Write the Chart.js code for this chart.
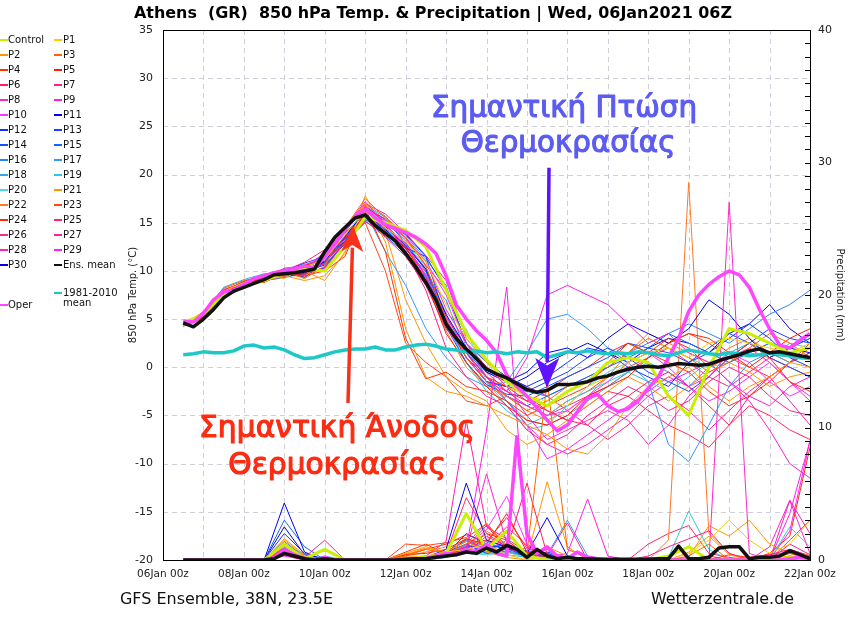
<!DOCTYPE html>
<html>
<head>
<meta charset="utf-8">
<title>Athens 850 hPa ensemble</title>
<script src="https://cdn.jsdelivr.net/npm/chart.js@4.4.1/dist/chart.umd.min.js"></script>
<style>
  html, body { margin: 0; padding: 0; background: #fff; }
  #wrap { width: 850px; height: 620px; position: relative; }
</style>
</head>
<body>
<div id="wrap"><canvas id="ens" width="850" height="620"></canvas></div>
<script>
// forecast hours counted from 06Jan 00z
const HOURS_12 = [12,24,36,48,60,72,84,96,108,120,132,144,156,168,180,192,204,216,228,240,252,264,276,288,300,312,324,336,348,360,372,384];
const HOURS_6 = [12,18,24,30,36,42,48,54,60,66, 72,78,84,90,96,102,108,114,120,126, 132,138,144,150,156,162,168,174,180,186,
  192,198,204,210,216,222,228,234,240,246, 252,258,264,270,276,282,288,294,300,306, 312,318,324,330,336,342,348,354,360,366, 372,378,384];
const DATE_LABELS = ['06Jan 00z','08Jan 00z','10Jan 00z','12Jan 00z','14Jan 00z','16Jan 00z','18Jan 00z','20Jan 00z','22Jan 00z'];

const MEMBER_NAMES = ['Control','P1','P2','P3','P4','P5','P6','P7','P8','P9','P10','P11','P12','P13','P14','P15',
  'P16','P17','P18','P19','P20','P21','P22','P23','P24','P25','P26','P27','P28','P29','P30'];
const MEMBER_COLORS = ['#c8f000','#ffc800','#ff9600','#ff6400','#ff3200','#ff1e00','#ff1e64','#ff1e8c','#ff28c8','#ff1ee6','#ff32ff',
  '#0000f0','#1432ff','#1446ff','#1450ff','#1464ff','#2882ff','#3296ff','#32aadc','#32c8dc','#46dcdc',
  '#ff9600','#ff7828','#ff4614','#ff2814','#ff2864','#ff2882','#ff1eaa','#ff1ed2','#ff1eff','#0000dc'];

// 850 hPa temperature (°C), 12-hourly
const T_CONTROL = [4.6,5.5,7.6,8.4,9.0,9.8,10.2,10.0, 12.5,15.6,15.0,14.2,12.5,8.0,3.5,0.8, -1.5,-3.0,-4.0,-2.5,-1.5,0.5,1.0,0.5, -3.0,-5.0,0.0,4.0,3.5,2.5,1.5,2.0];
const T_P1 = [4.3,5.6,7.9,8.8,9.5,9.2,10.4,11.2, 13.8,16.2,14.5,13.0,11.0,6.5,3.0,0.5, -2.0,-3.0,-3.5,-4.0,-2.0,-1.0,0.5,1.5, 2.0,1.0,2.5,3.0,2.5,2.0,1.5,2.5];
const T_P2 = [4.4,5.0,7.5,8.5,9.0,9.5,10.0,9.0, 12.0,17.0,13.0,4.0,-1.0,-2.5,-3.0,-4.0, -5.0,-6.0,-7.0,-8.5,-9.0,-7.0,-4.0,-2.0, -1.0,0.0,-2.0,-3.5,-2.0,-1.0,0.5,0.0];
const T_P3 = [4.2,5.8,8.2,9.0,9.4,10.0,9.2,10.5, 14.5,17.5,15.5,13.5,10.5,5.0,1.0,-1.5, -3.0,-4.5,-3.5,-2.0,-1.5,0.0,1.5,3.0, 2.0,1.0,-0.5,0.5,2.0,3.5,2.5,1.0];
const T_P4 = [4.6,5.2,8.0,8.8,8.8,9.8,9.5,10.0, 11.5,16.5,12.0,3.0,-1.2,-0.5,-2.0,-2.5, -3.5,-5.0,-4.0,-3.0,-2.0,0.5,2.5,1.5, 3.0,2.0,0.0,1.0,2.5,1.0,-1.5,-2.5];
const T_P5 = [4.5,5.4,7.4,8.6,9.3,9.9,10.6,11.0, 13.0,16.0,14.0,12.5,9.0,3.5,0.5,-2.0, -4.0,-5.5,-6.0,-5.0,-3.0,-2.0,-1.0,1.0, 2.5,3.5,3.0,1.5,0.0,1.5,3.0,4.0];
const T_P6 = [4.7,5.1,7.7,8.4,9.6,10.2,9.6,10.8, 13.6,15.2,13.5,11.5,8.5,4.0,1.5,-1.0, -2.5,-3.5,-4.5,-5.5,-6.0,-4.0,-3.0,-1.5, -0.5,-2.0,-4.0,-6.0,-3.0,-1.0,0.5,1.5];
const T_P7 = [4.3,5.5,7.6,8.9,9.1,9.4,10.3,11.5, 14.0,16.8,15.0,12.0,8.0,2.0,-1.0,-3.0, -4.0,-6.5,-8.0,-7.0,-5.0,-3.5,-2.0,-3.0, -4.5,-3.5,-1.5,0.0,-1.0,-3.0,-4.5,-5.0];
const T_P8 = [4.4,5.7,7.8,8.5,9.4,9.6,10.1,12.0, 14.5,17.2,14.8,13.5,11.0,6.0,2.5,0.0, -2.0,-5.0,-7.5,-6.5,-5.5,-4.5,-5.5,-8.0, -6.0,-3.0,-1.0,1.0,2.0,0.5,-1.5,-3.5];
const T_P9 = [4.5,5.3,7.5,8.8,9.5,9.8,9.9,10.2, 13.0,15.8,14.5,12.8,9.5,5.0,1.0,-1.5, -2.5,1.0,7.5,8.5,7.5,6.5,4.5,2.5, 3.5,1.5,0.5,-1.5,-3.0,-4.0,-2.0,-1.0];
const T_P10 = [4.6,5.6,8.1,8.7,9.0,10.3,10.5,11.8, 14.2,16.5,15.2,13.2,11.0,7.5,2.5,-1.0, -3.0,-4.0,-5.0,-4.5,-3.0,-1.5,0.5,1.5, 0.0,-2.0,-1.0,1.5,0.5,-1.5,-3.0,-2.0];
const T_P11 = [4.4,5.2,7.3,8.6,9.2,9.5,9.7,11.0, 13.5,16.3,14.6,12.6,10.2,5.5,2.0,-0.5, -1.5,-0.5,1.5,2.0,1.0,3.0,4.5,3.5, 2.5,4.0,7.0,5.5,3.0,1.0,2.0,1.5];
const T_P12 = [4.5,5.4,7.2,8.3,9.1,9.7,10.0,10.6, 12.8,15.5,14.8,13.8,11.5,8.0,2.5,0.5, -1.0,-2.0,-1.0,0.5,2.0,1.5,0.0,-1.0, -2.0,0.5,1.5,3.0,4.5,3.0,1.0,0.0];
const T_P13 = [4.3,5.1,7.6,8.8,9.3,10.0,10.8,11.5, 13.9,16.0,14.2,12.4,11.5,4.8,1.0,-1.5, -2.0,-2.5,-1.5,-0.5,1.0,2.0,1.0,-0.5, -1.5,-2.5,-1.0,1.0,2.5,4.0,3.0,2.5];
const T_P14 = [4.6,5.3,7.9,8.9,9.6,10.1,9.3,10.9, 13.3,15.4,13.6,11.8,9.0,4.2,0.5,-1.8, -2.8,-3.0,-2.0,-1.0,0.0,1.0,2.5,2.0, 1.5,0.5,2.0,3.5,2.5,1.0,0.0,-1.0];
const T_P15 = [4.5,5.5,7.7,8.6,9.0,9.3,9.8,10.3, 13.1,16.6,15.3,12.9,10.0,5.0,1.5,-1.0, -3.0,-4.0,-3.0,-2.0,-1.0,0.0,1.0,2.0, 3.5,2.5,1.5,0.5,1.5,2.5,2.0,3.0];
const T_P16 = [4.4,5.2,7.5,8.8,9.4,9.6,10.2,10.7, 12.9,15.6,14.0,12.0,9.2,7.0,1.5,-0.5, -1.5,-2.5,-3.0,-2.0,-1.0,0.0,1.5,2.5, 3.5,4.5,3.5,2.5,4.0,5.5,6.5,8.0];
const T_P17 = [4.5,5.6,7.9,8.5,9.2,10.2,10.4,11.2, 13.6,16.1,12.0,8.5,4.0,1.0,-1.0,-2.0, -1.5,1.5,5.0,5.5,4.0,2.0,0.5,-1.5, -8.0,-9.8,-6.0,-2.0,0.5,1.5,2.0,3.0];
const T_P18 = [4.4,5.5,8.3,9.1,9.7,9.9,10.6,11.4, 14.3,16.7,15.6,13.7,11.2,8.5,2.0,-1.0, -3.5,-5.5,-6.0,-5.0,-3.5,-2.0,-0.5,0.5, -0.5,-2.0,0.0,1.5,2.5,1.5,0.5,1.5];
const T_P19 = [4.5,5.3,7.6,8.7,9.3,10.1,10.0,10.1, 12.6,15.3,14.4,12.7,9.6,4.6,0.5,-2.5, -4.5,-6.0,-5.0,-3.5,-2.5,-1.5,-0.5,-1.5, -2.5,-1.0,0.5,1.0,1.5,1.0,2.5,2.0];
const T_P20 = [4.6,5.4,7.4,8.5,9.1,9.9,10.7,11.1, 13.7,16.4,15.1,13.1,10.4,5.6,4.0,-1.5, -4.0,-6.5,-6.0,-4.0,-2.0,-0.5,0.5,1.5, 2.0,1.0,0.0,0.5,1.5,2.5,1.5,1.0];
const T_P21 = [4.3,5.0,7.3,8.3,9.0,9.5,9.0,9.5, 11.8,17.8,14.0,7.0,2.5,-1.0,-2.5,-3.5, -6.5,-8.0,-7.0,-5.5,-4.0,-2.5,-1.0,-2.0, -3.5,-2.0,-0.5,0.5,-0.5,-2.0,-1.0,-0.5];
const T_P22 = [4.5,5.7,8.0,8.9,9.5,10.0,10.1,11.9, 14.1,16.9,15.7,12.8,8.8,3.8,0.0,-2.0, -3.0,-4.5,-5.5,-4.5,-3.0,-1.0,1.5,3.5, 2.5,1.5,0.5,2.0,3.0,1.5,0.5,2.0];
const T_P23 = [4.4,5.3,7.8,8.6,9.0,9.6,9.4,10.4, 13.0,15.0,10.0,2.5,0.5,-1.0,-3.5,-4.0, -3.0,-4.0,-5.0,-3.5,-2.5,-1.0,0.0,1.0, 2.5,3.5,2.5,1.0,0.0,-1.0,0.5,1.5];
const T_P24 = [4.5,5.5,7.7,8.7,9.2,9.8,10.3,11.3, 13.4,15.7,14.1,12.1,9.3,4.4,1.0,-1.0, -2.0,-3.5,-2.5,-1.0,0.0,1.5,2.5,1.5, 0.5,-0.5,-2.5,-4.0,-3.0,-1.5,0.5,2.5];
const T_P25 = [4.6,5.1,7.5,8.4,9.0,10.0,10.9,12.2, 14.6,16.6,15.4,13.4,10.6,8.0,2.5,0.0, -1.5,-3.0,-4.5,-5.5,-4.0,-2.5,-3.0,-4.5, -6.0,-7.0,-8.3,-6.0,-4.0,-5.0,-6.5,-7.5];
const T_P26 = [4.4,5.4,7.9,8.8,9.3,9.5,9.6,10.4, 13.0,15.1,13.9,12.3,9.9,5.2,2.0,-0.5, -2.5,-4.0,-5.0,-4.0,-3.0,-2.0,-0.5,1.0, 2.0,0.5,-1.0,-2.0,-0.5,1.0,0.0,-1.0];
const T_P27 = [4.5,5.6,8.0,8.6,9.1,9.7,10.3,11.7, 14.4,17.0,15.9,13.9,11.6,9.0,3.0,0.5, -1.0,-2.0,-3.0,-4.5,-6.0,-7.5,-6.0,-4.0, -3.0,-4.5,-6.5,-4.5,-2.5,-1.0,-3.5,-6.0];
const T_P28 = [4.3,5.2,7.4,8.5,9.4,9.9,10.5,11.0, 13.5,16.2,14.7,12.9,10.2,5.4,1.5,-1.5, -3.5,-6.0,-8.0,-9.0,-8.0,-6.5,-5.0,-3.0, -1.5,-0.5,0.5,-1.5,-3.5,-6.5,-10.0,-11.5];
const T_P29 = [4.5,5.5,7.6,8.9,9.6,9.6,10.0,10.8, 13.3,15.7,14.4,12.5,9.4,4.9,1.5,-1.0, -3.5,-6.0,-9.5,-8.5,-7.0,-5.5,-4.0,-2.5, -1.0,-2.0,-3.5,-2.5,-1.0,0.5,-1.5,-3.0];
const T_P30 = [4.4,5.3,7.7,8.6,9.0,9.8,10.2,10.9, 13.1,15.9,14.3,12.3,9.6,4.7,1.0,-1.5, -2.0,-1.0,0.5,1.5,2.5,1.5,0.5,2.0, 3.0,2.5,1.5,3.5,4.5,6.5,4.0,2.5];

// precipitation (mm), 12-hourly
const R_CONTROL = [0,0,0,0,0,1.2,0.1,0.8, 0,0,0,0,0.2,0.5,3.5,0.8, 2.2,0.3,0,0.1,0,0,0,0, 0.3,1.0,0,0,0,0,0.2,0];
const R_P1 = [0,0,0,0,0,1.3,0,0, 0,0,0,0.2,0.3,0.6,0.8,1.2, 0.4,0,0.2,0,0,0,0,0, 0,0.5,1.5,3.0,1.5,0.5,1.2,3.0];
const R_P2 = [0,0,0,0,0,1.5,0.3,0, 0,0,0,0.5,1.0,0.6,1.4,0.6, 0.2,0,1.0,0.3,0,0,0,0, 0,0.6,1.8,0.4,0,0.3,0.2,0.5];
const R_P3 = [0,0,0,0,0,0.8,0,0, 0,0,0,0.3,0.8,0.5,1.2,2.8, 1.0,0.5,13.5,0.8,0.2,0,0,0, 0,0.3,1.2,0,0,0,0,0];
const R_P4 = [0,0,0,0,0,0.6,0,0, 0,0,0,0.6,1.2,0.4,0.8,2.0, 1.5,0.3,0.4,0,0,0,0,0, 0,0,0,0.4,0.2,0,0.5,0.2];
const R_P5 = [0,0,0,0,0,0.4,0,0, 0,0,0,0.4,0.5,0.8,1.6,1.2, 3.5,0.6,0.2,0.1,0,0,0,0, 0,0,0,0,0,0,0.3,0];
const R_P6 = [0,0,0,0,0,0.5,0,0, 0,0,0,0.2,0.3,0.4,1.0,2.6, 0.8,5.8,0.4,0,0,0,0,0, 0,0,0,0,0.2,0.4,0.8,0.3];
const R_P7 = [0,0,0,0,0,0.6,0.2,1.5, 0,0,0,0,0.1,0.3,0.5,1.8, 1.0,0.4,0,0.2,0,0,0,0.3, 1.0,1.6,2.2,0.5,0,0,1.2,0.4];
const R_P8 = [0,0,0,0,0,1.2,0,0, 0,0,0,0,0.2,0.6,1.4,0.8, 0.6,0.9,0.3,0,0,0,0,0, 0,0,0,27.0,0.5,0,0.8,0.3];
const R_P9 = [0,0,0,0,0,0.3,0,0, 0,0,0,0,0.1,0.2,0.8,9.8, 20.6,1.0,0.2,0.5,4.6,0.3,0,0, 0,0,0,0,0,0,3.5,9.0];
const R_P10 = [0,0,0,0,0,0.9,0.1,0, 0,0,0,0,0.3,0.5,1.0,2.3, 4.8,1.2,0.4,0,0,0,0,0, 0,0,0,0,0,0.4,0.6,0.2];
const R_P11 = [0,0,0,0,0,4.3,0.6,0, 0,0,0,0,0.2,0.8,5.8,1.5, 1.0,0.5,3.2,0.3,0,0,0,0, 0,0,0,0,0,0,0,0];
const R_P12 = [0,0,0,0,0,2.0,0.5,0, 0,0,0,0,0.1,0.4,2.0,1.2, 0.8,0.7,0.5,0,0,0,0,0, 0,0,0,0,0,0,0.2,0];
const R_P13 = [0,0,0,0,0,0.7,0,0, 0,0,0,0,0.1,0.3,1.0,1.0, 1.1,0.4,0.3,0.2,0,0,0,0, 0,0,0,0,0,0,0,0];
const R_P14 = [0,0,0,0,0,0.9,0.1,0, 0,0,0,0,0.2,0.6,1.2,0.5, 0.9,0.2,0.6,0.2,0,0,0,0, 0,0,0,0,0,0,0,0.3];
const R_P15 = [0,0,0,0,0,3.0,1.0,0, 0,0,0,0,0.2,0.5,1.5,0.8, 1.2,0.6,0.3,0,0,0,0,0, 0,0,0,0,0,0,0,0];
const R_P16 = [0,0,0,0,0,1.4,0.2,0, 0,0,0,0,0,0.4,1.1,0.6, 0.8,0.5,0.2,0.1,0,0,0,0, 0,0,0,0,0,0,0,0];
const R_P17 = [0,0,0,0,0,1.2,0.4,0, 0,0,0,0,0.2,0.3,0.9,1.4, 0.7,0.3,0.4,3.0,0.3,0,0,0, 0,0,0,0,0,0,0.8,0.3];
const R_P18 = [0,0,0,0,0,0.8,0,0, 0,0,0,0,0,0.2,0.7,0.6, 1.5,0.4,0.3,0,0,0,0,0, 0,0,0,0,0,0,0,0];
const R_P19 = [0,0,0,0,0,0.5,0,0.3, 0,0,0,0,0.1,0.3,0.6,0.5, 0.4,0.2,0.6,0,0,0,0,0, 0.2,3.7,0.8,0,0,0,2.5,1.0];
const R_P20 = [0,0,0,0,0,0.6,0,0, 0,0,0,0,0,0.2,0.5,0.4, 0.6,0.2,0.1,0,0,0,0,0, 0,0,0,0,0,0,0,0];
const R_P21 = [0,0,0,0,0,1.6,0.4,0, 0,0,0,0.4,0.9,0.6,1.6,1.0, 0.6,0.2,5.9,1.0,0,0,0,0, 0,0.2,2.6,1.8,3.0,1.2,0.5,0];
const R_P22 = [0,0,0,0,0,1.0,0.3,0, 0,0,0,0.3,0.6,1.0,0.5,2.2, 1.2,0,0.3,0.1,0,0,0,0, 1.5,28.5,2.0,0.5,0,0,0.3,0];
const R_P23 = [0,0,0,0,0,0.4,0,0, 0,0,0,1.2,1.1,1.3,1.7,2.7, 1.0,0.5,0.2,0,0,0,0,0, 0,0,0,0,0,0,0.2,0];
const R_P24 = [0,0,0,0,0,0.5,0,0, 0,0,0,0.4,0.8,1.2,1.9,1.4, 3.2,0.9,0.4,0,0,0,0,0, 0,0,0.3,0,0,0.5,1.8,8.5];
const R_P25 = [0,0,0,0,0,0.7,0.2,0, 0,0,0,0,0.2,0.5,4.7,2.0, 1.0,0.3,0,0,0,0,0,1.2, 2.0,2.6,0.5,0.2,0,0,0,0];
const R_P26 = [0,0,0,0,0,0.6,0,0, 0,0,0,0,0.1,0.3,0.6,1.0, 2.5,1.1,0.3,2.8,0,0,0,0, 0,0,0,0,0,0,1.5,3.0];
const R_P27 = [0,0,0,0,0,0.8,0,0, 0,0,0,0,0.3,1.4,10.5,2.5, 1.6,0.6,0.2,0,0,0,0,0, 0,0,0,0,0,0,4.5,2.0];
const R_P28 = [0,0,0,0,0,0.4,0,0, 0,0,0,0,0,0.2,0.8,6.5, 1.3,0.4,0.2,0,0,0,0,0, 0,0,0,0,0,1.0,4.5,0.5];
const R_P29 = [0,0,0,0,0,0.5,0,0, 0,0,0,0,0,0.4,1.2,1.5, 0.9,0.3,0.8,0,0,0,0,0, 0,0,0,0,0,0,2.2,9.0];
const R_P30 = [0,0,0,0,0,2.5,0.4,0, 0,0,0,0,0.1,0.4,1.6,1.0, 0.6,0.3,0.1,0,0,0,0,0, 0,0,0,0,0,0,0,0];

// 6-hourly series
const T_OPER = [4.8,4.7,5.6,7.0,7.8,8.0,8.6,9.2,9.5,9.8, 10.0,10.2,10.5,10.3,11.5,12.8,14.3,15.6,16.4,15.5,
  14.8,14.4,14.0,13.5,12.8,11.8,9.5,6.5,5.0,3.8, 2.8,1.5,-0.8,-2.0,-3.0,-4.2,-5.5,-6.6,-6.0,-4.6,
  -3.2,-2.8,-4.0,-4.6,-4.3,-3.5,-2.2,-1.0,1.0,3.0, 5.8,7.5,8.6,9.4,10.0,9.6,8.3,6.0,4.0,2.3, 2.0,2.8,3.5];
const T_MEAN = [4.6,4.2,5.0,6.0,7.2,7.9,8.3,8.7,9.1,9.6, 9.7,9.8,10.0,10.2,12.0,13.5,14.5,15.5,15.8,14.7,
  13.9,13.1,11.8,10.4,8.8,7.0,4.5,3.0,1.9,0.9, -0.2,-0.7,-1.1,-1.7,-2.3,-2.6,-2.4,-1.8,-1.8,-1.7,
  -1.5,-1.1,-0.9,-0.5,-0.2,0.0,0.1,0.0,0.2,0.4, 0.3,0.2,0.3,0.7,1.0,1.3,1.7,1.9,1.5,1.6, 1.4,1.2,1.0];
const T_CLIM = [1.3,1.4,1.6,1.5,1.5,1.7,2.2,2.3,2.0,2.1, 1.8,1.3,0.9,1.0,1.3,1.6,1.8,1.9,1.9,2.1,
  1.8,1.8,2.1,2.3,2.4,2.2,1.9,1.8,1.6,1.7, 1.5,1.6,1.4,1.6,1.5,1.6,1.0,1.3,1.6,1.5,
  1.7,1.5,1.4,1.5,1.4,1.6,1.5,1.3,1.2,1.5, 1.8,1.6,1.4,1.3,1.5,1.4,1.2,1.3,1.5,1.3, 1.2,1.0,0.9];
const R_OPER = [0,0,0,0,0,0,0,0,0, 0.2,0.7,0.4,0.1, 0,0.2,0,0,0,0,0,0,0,0,
  0,0.1,0.3,0.5,0.4,0.8,0.6,1.2,0.5,0.3, 9.3,2.0,0.5,1.0,0.3,0.1,0.6,0.2,0.1,0,
  0,0,0,0.1,0,0,0,0,0,0, 0,0,0,0,0,0,0,0.1,0.2,0.1];
const R_MEAN = [0,0,0,0,0,0,0,0,0, 0.1,0.5,0.3,0.1, 0,0.1,0,0,0,0,0,0,0,0.05,
  0.1,0.1,0.2,0.3,0.4,0.6,0.5,0.9,0.6,1.1, 0.8,0.2,0.8,0.3,0.1,0.2,0.1,0.1,0.05,0.05,
  0.05,0.05,0.05,0.05,0.1,0.1,1.05,0.1,0.1,0.2, 0.9,1.0,1.0,0.1,0.2,0.2,0.3,0.7,0.4,0.1];

const MEMBER_TEMPS = [T_CONTROL,T_P1,T_P2,T_P3,T_P4,T_P5,T_P6,T_P7,T_P8,T_P9,T_P10,T_P11,T_P12,T_P13,T_P14,T_P15,
  T_P16,T_P17,T_P18,T_P19,T_P20,T_P21,T_P22,T_P23,T_P24,T_P25,T_P26,T_P27,T_P28,T_P29,T_P30];
const MEMBER_RAIN = [R_CONTROL,R_P1,R_P2,R_P3,R_P4,R_P5,R_P6,R_P7,R_P8,R_P9,R_P10,R_P11,R_P12,R_P13,R_P14,R_P15,
  R_P16,R_P17,R_P18,R_P19,R_P20,R_P21,R_P22,R_P23,R_P24,R_P25,R_P26,R_P27,R_P28,R_P29,R_P30];

const OPER_COLOR = '#ff46ff';
const MEAN_COLOR = '#111111';
const CLIM_COLOR = '#1ec8c8';

Chart.defaults.font.family = '"DejaVu Sans", sans-serif';
Chart.defaults.color = '#222';

const xy = (hours, vals) => hours.map((h, i) => ({ x: h, y: vals[i] }));

function series(label, color, width, data, axis, order) {
  return {
    label, data, yAxisID: axis, order,
    borderColor: color, backgroundColor: color, borderWidth: width,
    pointRadius: 0, pointHoverRadius: 0, tension: 0, fill: false,
    borderJoinStyle: 'round'
  };
}

const datasets = [];
MEMBER_NAMES.forEach((name, i) => {
  const w = i === 0 ? 3 : 1;
  const ord = i === 0 ? 4 : 10 + i;
  datasets.push(series(name, MEMBER_COLORS[i], w, xy(HOURS_12, MEMBER_TEMPS[i]), 'y', ord));
  datasets.push(series(name + ' precip', MEMBER_COLORS[i], w, xy(HOURS_12, MEMBER_RAIN[i]), 'y2', ord));
});
datasets.push(series('Oper', OPER_COLOR, 3.5, xy(HOURS_6, T_OPER), 'y', 3));
datasets.push(series('Oper precip', OPER_COLOR, 3.5, xy(HOURS_6, R_OPER), 'y2', 3));
datasets.push(series('1981-2010 mean', CLIM_COLOR, 3.5, xy(HOURS_6, T_CLIM), 'y', 2));
datasets.push(series('Ens. mean', MEAN_COLOR, 3.5, xy(HOURS_6, T_MEAN), 'y', 1));
datasets.push(series('Ens. mean precip', MEAN_COLOR, 3.5, xy(HOURS_6, R_MEAN), 'y2', 1));

// draw text squeezed/stretched horizontally, optional outline to thicken it
function fitText(ctx, text, x, y, sx, align, stroke) {
  ctx.save();
  ctx.translate(x, y);
  ctx.scale(sx, 1);
  ctx.textAlign = align;
  ctx.fillText(text, 0, 0);
  if (stroke) {
    ctx.strokeStyle = ctx.fillStyle;
    ctx.lineWidth = stroke;
    ctx.lineJoin = 'round';
    ctx.strokeText(text, 0, 0);
  }
  ctx.restore();
}

function arrow(ctx, x0, y0, x1, y1, color, w, headLen, headHalf) {
  const a = Math.atan2(y1 - y0, x1 - x0);
  const c = Math.cos(a), s = Math.sin(a);
  const bx = x1 - headLen * c, by = y1 - headLen * s;
  ctx.strokeStyle = color;
  ctx.lineWidth = w;
  ctx.beginPath();
  ctx.moveTo(x0, y0);
  ctx.lineTo(bx + 4 * c, by + 4 * s);
  ctx.stroke();
  ctx.fillStyle = color;
  ctx.beginPath();
  ctx.moveTo(x1, y1);
  ctx.lineTo(bx - headHalf * s, by + headHalf * c);
  ctx.lineTo(bx + headLen * 0.25 * c, by + headLen * 0.25 * s);
  ctx.lineTo(bx + headHalf * s, by - headHalf * c);
  ctx.closePath();
  ctx.fill();
}

const decor = {
  id: 'decor',
  beforeDatasetsDraw(chart) {
    const { ctx, chartArea: a, scales } = chart;
    ctx.save();
    ctx.strokeStyle = '#cfcfdc';
    ctx.lineWidth = 1;
    ctx.setLineDash([5, 4]);
    scales.x.ticks.forEach(t => {
      const px = Math.round(scales.x.getPixelForValue(t.value)) + 0.5;
      ctx.beginPath(); ctx.moveTo(px, a.top); ctx.lineTo(px, a.bottom); ctx.stroke();
    });
    scales.y.ticks.forEach(t => {
      const py = Math.round(scales.y.getPixelForValue(t.value)) + 0.5;
      ctx.beginPath(); ctx.moveTo(a.left, py); ctx.lineTo(a.right, py); ctx.stroke();
    });
    ctx.restore();
  },
  afterDatasetsDraw(chart) {
    const { ctx, chartArea: a, scales } = chart;
    ctx.save();
    ctx.strokeStyle = '#000';
    ctx.lineWidth = 1;
    ctx.strokeRect(Math.round(a.left) + 0.5, Math.round(a.top) + 0.5, Math.round(a.right - a.left), Math.round(a.bottom - a.top));
    // minor ticks on the precipitation axis
    for (let v = 0; v <= 40; v++) {
      const py = Math.round(scales.y2.getPixelForValue(v)) + 0.5;
      ctx.beginPath(); ctx.moveTo(a.right - 5, py); ctx.lineTo(a.right, py); ctx.stroke();
    }
    ctx.restore();
  },
  afterDraw(chart) {
    const { ctx, scales } = chart;
    const x = scales.x, y = scales.y;
    ctx.save();

    // title
    ctx.fillStyle = '#000';
    ctx.textBaseline = 'alphabetic';
    ctx.font = 'bold 16px "DejaVu Sans Condensed", "DejaVu Sans", sans-serif';
    const title = 'Athens  (GR)  850 hPa Temp. & Precipitation | Wed, 06Jan2021 06Z';
    fitText(ctx, title, 433, 18, 598 / ctx.measureText(title).width, 'center');

    // footer
    ctx.font = '16px "DejaVu Sans", sans-serif';
    ctx.fillStyle = '#111';
    const f1 = 'GFS Ensemble, 38N, 23.5E', f2 = 'Wetterzentrale.de';
    fitText(ctx, f1, 120, 604, 213 / ctx.measureText(f1).width, 'left');
    fitText(ctx, f2, 651, 604, 143 / ctx.measureText(f2).width, 'left');

    // legend
    ctx.font = '10px "DejaVu Sans", sans-serif';
    ctx.textBaseline = 'middle';
    ctx.textAlign = 'left';
    ctx.lineWidth = 2;
    const item = (lx, tx, ly, color, text) => {
      ctx.strokeStyle = color;
      ctx.beginPath(); ctx.moveTo(lx, ly); ctx.lineTo(lx + 8, ly); ctx.stroke();
      ctx.fillStyle = '#111';
      ctx.fillText(text, tx, ly);
    };
    MEMBER_NAMES.forEach((name, i) => {
      const col = i % 2, row = Math.floor(i / 2);
      item(col ? 54 : 0, col ? 63 : 8, 40 + row * 15, MEMBER_COLORS[i], name);
    });
    item(54, 63, 265, MEAN_COLOR, 'Ens. mean');
    item(54, 63, 293, CLIM_COLOR, '1981-2010');
    ctx.fillText('mean', 63, 303);
    item(0, 8, 305, OPER_COLOR, 'Oper');

    // annotations
    ctx.textBaseline = 'alphabetic';
    ctx.font = '31px "DejaVu Sans", sans-serif';
    const r1 = 'Σημαντική Άνοδος', r2 = 'Θερμοκρασίας';
    const b1 = 'Σημαντική Πτώση';
    const sr = 276 / ctx.measureText(r1).width;
    const sb = 266 / ctx.measureText(b1).width;
    ctx.fillStyle = '#fc2c12';
    fitText(ctx, r1, x.getPixelForValue(103.3), y.getPixelForValue(-7.2), sr, 'center', 1.2);
    fitText(ctx, r2, x.getPixelForValue(103.3), y.getPixelForValue(-11.1), sr, 'center', 1.2);
    ctx.fillStyle = '#5c5cf2';
    fitText(ctx, b1, x.getPixelForValue(238), y.getPixelForValue(26.0), sb, 'center', 1.2);
    fitText(ctx, r2, x.getPixelForValue(240.4), y.getPixelForValue(22.3), sb, 'center', 1.2);

    arrow(ctx, x.getPixelForValue(109.8), y.getPixelForValue(-3.7), x.getPixelForValue(112.8), y.getPixelForValue(14.7),
      '#f8321a', 3.5, 26, 11);
    arrow(ctx, x.getPixelForValue(229.1), y.getPixelForValue(20.7), x.getPixelForValue(227.9), y.getPixelForValue(-2.15),
      '#5f12ff', 3.5, 30, 12);
    ctx.restore();
  }
};

new Chart(document.getElementById('ens'), {
  type: 'line',
  data: { datasets },
  options: {
    responsive: false,
    animation: false,
    devicePixelRatio: 1,
    layout: { padding: { left: 123, right: 0, top: 30, bottom: 21 } },
    plugins: { legend: { display: false }, tooltip: { enabled: false }, title: { display: false } },
    scales: {
      x: {
        type: 'linear', position: 'bottom', min: 0, max: 384,
        grid: { display: false }, border: { display: false },
        ticks: {
          stepSize: 24, autoSkip: false, maxRotation: 0, padding: 0, font: { size: 10.5 },
          callback: v => (v % 48 === 0 ? DATE_LABELS[v / 48] : '')
        },
        title: { display: true, text: 'Date (UTC)', font: { size: 10 }, padding: { top: 2, bottom: 4 } },
        afterFit: s => { s.height = 39; }
      },
      y: {
        type: 'linear', position: 'left', min: -20, max: 35,
        grid: { display: false }, border: { display: false },
        ticks: { stepSize: 5, padding: 2, font: { size: 11 } },
        title: { display: true, text: '850 hPa Temp. (°C)', font: { size: 10 } },
        afterFit: s => { s.width = 40; }
      },
      y2: {
        type: 'linear', position: 'right', min: 0, max: 40,
        grid: { display: false }, border: { display: false },
        ticks: { stepSize: 10, padding: 0, font: { size: 11 } },
        title: { display: true, text: 'Precipitation (mm)', font: { size: 10 } },
        afterFit: s => { s.width = 40; }
      }
    }
  },
  plugins: [decor]
});
</script>
</body>
</html>
